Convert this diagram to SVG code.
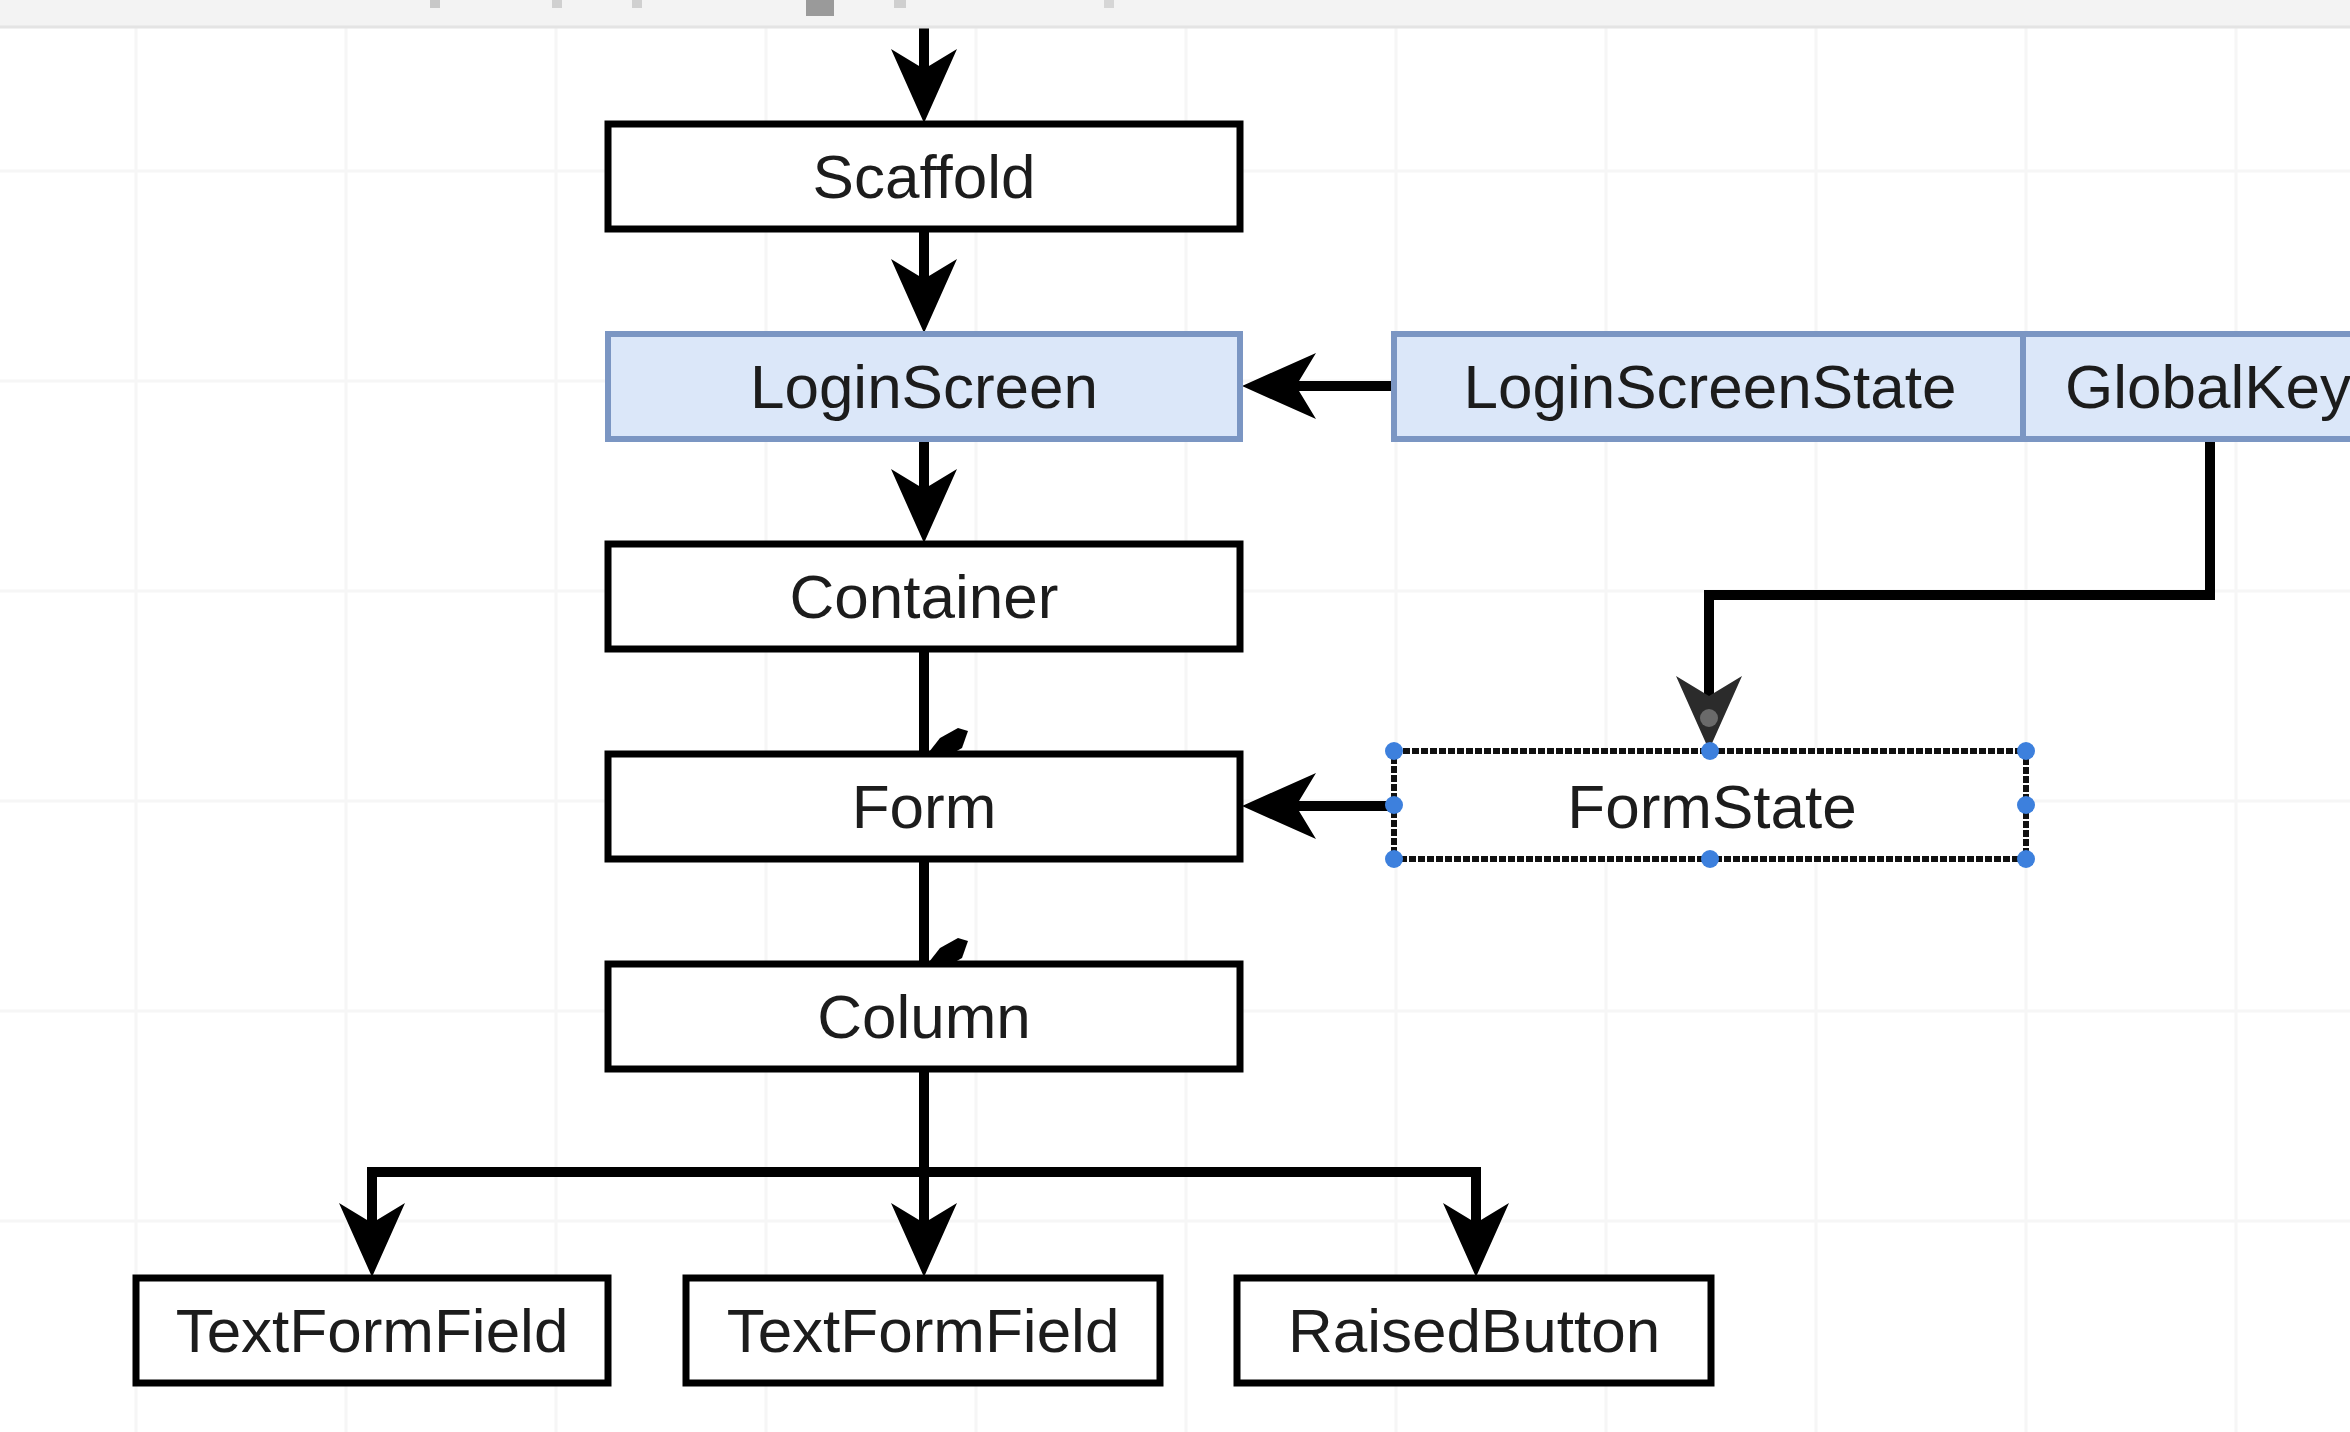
<svg xmlns="http://www.w3.org/2000/svg" width="2350" height="1432" viewBox="0 0 2350 1432">
<style>
.box{fill:#ffffff;stroke:#000000;stroke-width:7}
.blue{fill:#dbe7f9;stroke:#7b96c3;stroke-width:6}
.sel{fill:#ffffff;stroke:#111111;stroke-width:6;stroke-dasharray:7 2}
.lbl{font-family:"Liberation Sans",Arial,Helvetica,sans-serif;font-size:62px;fill:#1c1c1c;text-anchor:middle}
.edge{fill:none;stroke:#000000;stroke-width:10;stroke-linejoin:miter}
.grid{stroke:#f6f6f6;stroke-width:3}
.handle{fill:#3d80dd}
</style>
<defs>
<marker id="arr" viewBox="0 0 74 66" markerWidth="74" markerHeight="66" refX="24" refY="33" orient="auto" markerUnits="userSpaceOnUse">
<path d="M0,0 L74,33 L0,66 L20,33 Z" fill="#000000"/>
</marker>
<marker id="arrSel" viewBox="0 0 74 66" markerWidth="74" markerHeight="66" refX="24" refY="33" orient="auto" markerUnits="userSpaceOnUse">
<path d="M0,0 L74,33 L0,66 L20,33 Z" fill="#2b2b2b"/>
<circle cx="42" cy="33" r="9" fill="#6a6a6a"/>
</marker>
</defs>
<rect x="0" y="0" width="2350" height="1432" fill="#ffffff"/>
<g id="grid">
<line class="grid" x1="136" y1="27" x2="136" y2="1432"/>
<line class="grid" x1="346" y1="27" x2="346" y2="1432"/>
<line class="grid" x1="556" y1="27" x2="556" y2="1432"/>
<line class="grid" x1="766" y1="27" x2="766" y2="1432"/>
<line class="grid" x1="976" y1="27" x2="976" y2="1432"/>
<line class="grid" x1="1186" y1="27" x2="1186" y2="1432"/>
<line class="grid" x1="1396" y1="27" x2="1396" y2="1432"/>
<line class="grid" x1="1606" y1="27" x2="1606" y2="1432"/>
<line class="grid" x1="1816" y1="27" x2="1816" y2="1432"/>
<line class="grid" x1="2026" y1="27" x2="2026" y2="1432"/>
<line class="grid" x1="2236" y1="27" x2="2236" y2="1432"/>
<line class="grid" x1="0" y1="171" x2="2350" y2="171"/>
<line class="grid" x1="0" y1="381" x2="2350" y2="381"/>
<line class="grid" x1="0" y1="591" x2="2350" y2="591"/>
<line class="grid" x1="0" y1="801" x2="2350" y2="801"/>
<line class="grid" x1="0" y1="1011" x2="2350" y2="1011"/>
<line class="grid" x1="0" y1="1221" x2="2350" y2="1221"/>
</g>
<g id="connectors">
<path class="edge" d="M924,20 V73" marker-end="url(#arr)"/>
<path class="edge" d="M924,229 V283" marker-end="url(#arr)"/>
<path class="edge" d="M924,439 V493" marker-end="url(#arr)"/>
<path class="edge" d="M924,649 V753"/>
<polygon points="929,752 940,738 958,728 968,731 962,748 955,752" fill="#000000"/>
<path class="edge" d="M924,859 V963"/>
<polygon points="929,962 940,948 958,938 968,941 962,958 955,962" fill="#000000"/>
<path class="edge" d="M924,1069 V1227" marker-end="url(#arr)"/>
<path class="edge" d="M924,1172 H372 V1227" marker-end="url(#arr)"/>
<path class="edge" d="M924,1172 H1476 V1227" marker-end="url(#arr)"/>
<path class="edge" d="M1394,386 H1292" marker-end="url(#arr)"/>
<path class="edge" d="M2210,439 V595 H1709 V700" marker-end="url(#arrSel)"/>
<path class="edge" d="M1394,806 H1292" marker-end="url(#arr)"/>
</g>
<g id="scaffold">
<rect class="box" x="608" y="124" width="632" height="105"/>
<text class="lbl" x="924" y="198">Scaffold</text>
</g>
<g id="loginscreen">
<rect class="blue" x="608" y="334" width="632" height="105"/>
<text class="lbl" x="924" y="408">LoginScreen</text>
</g>
<g id="loginscreenstate">
<rect class="blue" x="1394" y="334" width="629" height="105"/>
<text class="lbl" x="1710" y="408">LoginScreenState</text>
</g>
<g id="globalkey">
<rect class="blue" x="2023" y="334" width="370" height="105"/>
<text class="lbl" x="2208" y="408">GlobalKey</text>
</g>
<g id="container">
<rect class="box" x="608" y="544" width="632" height="105"/>
<text class="lbl" x="924" y="618">Container</text>
</g>
<g id="form">
<rect class="box" x="608" y="754" width="632" height="105"/>
<text class="lbl" x="924" y="828">Form</text>
</g>
<g id="formstate">
<rect class="sel" x="1394" y="751" width="632" height="108"/>
<text class="lbl" x="1712" y="828">FormState</text>
<circle class="handle" cx="1394" cy="751" r="9"/>
<circle class="handle" cx="1710" cy="751" r="9"/>
<circle class="handle" cx="2026" cy="751" r="9"/>
<circle class="handle" cx="1394" cy="805" r="9"/>
<circle class="handle" cx="2026" cy="805" r="9"/>
<circle class="handle" cx="1394" cy="859" r="9"/>
<circle class="handle" cx="1710" cy="859" r="9"/>
<circle class="handle" cx="2026" cy="859" r="9"/>
</g>
<g id="column">
<rect class="box" x="608" y="964" width="632" height="105"/>
<text class="lbl" x="924" y="1038">Column</text>
</g>
<g id="textformfield1">
<rect class="box" x="136" y="1278" width="472" height="105"/>
<text class="lbl" x="372" y="1352">TextFormField</text>
</g>
<g id="textformfield2">
<rect class="box" x="686" y="1278" width="474" height="105"/>
<text class="lbl" x="923" y="1352">TextFormField</text>
</g>
<g id="raisedbutton">
<rect class="box" x="1237" y="1278" width="474" height="105"/>
<text class="lbl" x="1474" y="1352">RaisedButton</text>
</g>
<g id="toolbar">
<rect x="0" y="0" width="2350" height="27" fill="#f3f3f3"/>
<line x1="0" y1="27" x2="2350" y2="27" stroke="#e4e4e4" stroke-width="3"/>
<rect x="806" y="0" width="28" height="16" fill="#9a9a9a"/>
<rect x="430" y="0" width="10" height="8" fill="#c8c8c8"/>
<rect x="552" y="0" width="10" height="8" fill="#d0d0d0"/>
<rect x="632" y="0" width="10" height="8" fill="#d0d0d0"/>
<rect x="894" y="0" width="12" height="8" fill="#cfcfcf"/>
<rect x="1104" y="0" width="10" height="8" fill="#d6d6d6"/>
</g>
</svg>
